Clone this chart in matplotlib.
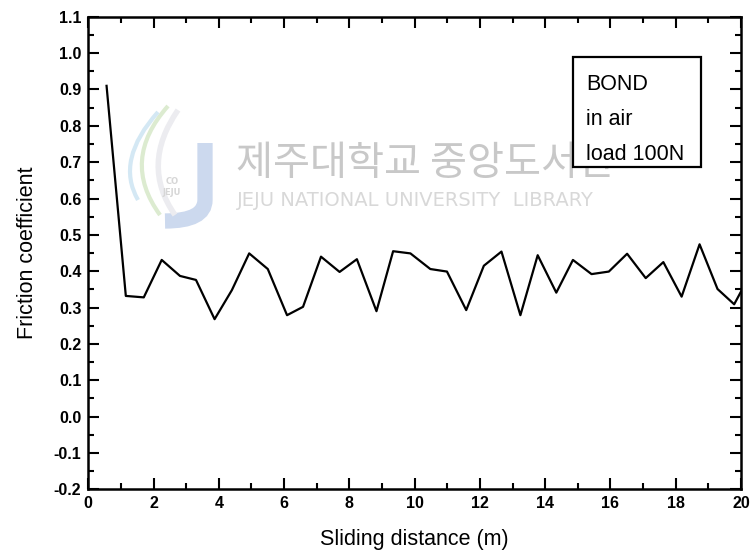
import matplotlib
matplotlib.use("Agg")
import matplotlib.pyplot as plt
from matplotlib.ticker import MultipleLocator
from matplotlib.patches import Rectangle, PathPatch
from matplotlib.path import Path
from matplotlib import font_manager

names = {f.name for f in font_manager.fontManager.ttflist}
narrow = "Liberation Sans Narrow" if "Liberation Sans Narrow" in names else "Liberation Sans"

distance = [0.56, 1.15, 1.70, 2.25, 2.81, 3.30, 3.87, 4.40, 4.93, 5.50, 6.09, 6.58,
            7.13, 7.70, 8.23, 8.83, 9.34, 9.87, 10.48, 10.99, 11.58, 12.12, 12.66,
            13.24, 13.77, 14.34, 14.85, 15.42, 15.95, 16.51, 17.08, 17.62, 18.18,
            18.73, 19.28, 19.79, 20.0]
friction = [0.91, 0.332, 0.328, 0.431, 0.387, 0.376, 0.268, 0.348, 0.449, 0.406,
            0.279, 0.302, 0.440, 0.398, 0.433, 0.290, 0.455, 0.449, 0.406, 0.399,
            0.293, 0.415, 0.454, 0.279, 0.444, 0.341, 0.431, 0.392, 0.399, 0.448,
            0.381, 0.425, 0.330, 0.474, 0.351, 0.309, 0.344]
x_ticks = list(range(0, 21, 2))
y_ticks = [round(-0.2 + 0.1 * i, 1) for i in range(14)]
note_lines = ["BOND", "in air", "load 100N"]

fig = plt.figure(figsize=(7.52, 5.59), dpi=100)

# background watermark layer (pixel coordinates)
bg = fig.add_axes([0, 0, 1, 1], zorder=0)
bg.set_xlim(0, 752)
bg.set_ylim(559, 0)
bg.axis("off")
bg.text(236, 163, "제주대학교 중앙도서관", fontsize=29, color="#c8c8c8",
        family=["Noto Sans CJK KR", "DejaVu Sans"], va="center", ha="left")
bg.text(237, 200, "JEJU NATIONAL UNIVERSITY  LIBRARY", fontsize=14, color="#d8d8d8",
        family=["DejaVu Sans"], va="center", ha="left")
# rough logo
jpath = Path([(205, 143), (205, 200), (205, 221), (165, 221)],
             [Path.MOVETO, Path.LINETO, Path.CURVE3, Path.CURVE3])
bg.add_patch(PathPatch(jpath, fill=False, ec="#ccd9ee", lw=11, capstyle="butt"))
s1 = Path([(168, 106), (120, 160), (160, 215)], [Path.MOVETO, Path.CURVE3, Path.CURVE3])
s2 = Path([(158, 112), (115, 160), (138, 200)], [Path.MOVETO, Path.CURVE3, Path.CURVE3])
s3 = Path([(178, 110), (140, 165), (175, 215)], [Path.MOVETO, Path.CURVE3, Path.CURVE3])
bg.add_patch(PathPatch(s1, fill=False, ec="#dcebd0", lw=3))
bg.add_patch(PathPatch(s2, fill=False, ec="#d4e8f4", lw=3))
bg.add_patch(PathPatch(s3, fill=False, ec="#ececf0", lw=4))
bg.text(172, 187, "CO\nJEJU", fontsize=6, color="#d6d6d6", ha="center", va="center",
        family="DejaVu Sans", fontweight="bold")

ax = fig.add_axes([0.1174, 0.1247, 0.868, 0.8453], zorder=1)
ax.patch.set_alpha(0)

ax.plot(distance, friction, color="black", lw=1.6, zorder=3)

ax.set_xlim(0, 20)
ax.set_ylim(-0.2, 1.1)
ax.set_xticks(x_ticks)
ax.set_yticks(y_ticks)
ax.set_yticklabels([f"{v:.1f}" for v in y_ticks])
ax.xaxis.set_minor_locator(MultipleLocator(1))
ax.yaxis.set_minor_locator(MultipleLocator(0.05))
ax.tick_params(which="major", direction="in", length=8, width=1.5,
               top=True, right=True, labelsize=11.5, pad=5)
ax.tick_params(which="minor", direction="in", length=4, width=1.5,
               top=True, right=True)
for lab in ax.get_xticklabels() + ax.get_yticklabels():
    lab.set_fontfamily(narrow)
    lab.set_fontweight("bold")
for s in ax.spines.values():
    s.set_linewidth(1.8)

ax.set_xlabel("Sliding distance (m)", fontsize=15.5, family="Liberation Sans", labelpad=13)
ax.set_ylabel("Friction coefficient", fontsize=15.5, family="Liberation Sans", labelpad=11)

ax.add_patch(Rectangle((0.743, 0.682), 0.196, 0.233, transform=ax.transAxes,
                       fc="white", ec="black", lw=1.6, zorder=4))
for ypos, line in zip([0.856, 0.782, 0.708], note_lines):
    ax.text(0.763, ypos, line, transform=ax.transAxes, fontsize=15.5,
            family="Liberation Sans", va="center", ha="left", zorder=5)

fig.savefig("out.png", dpi=100)
